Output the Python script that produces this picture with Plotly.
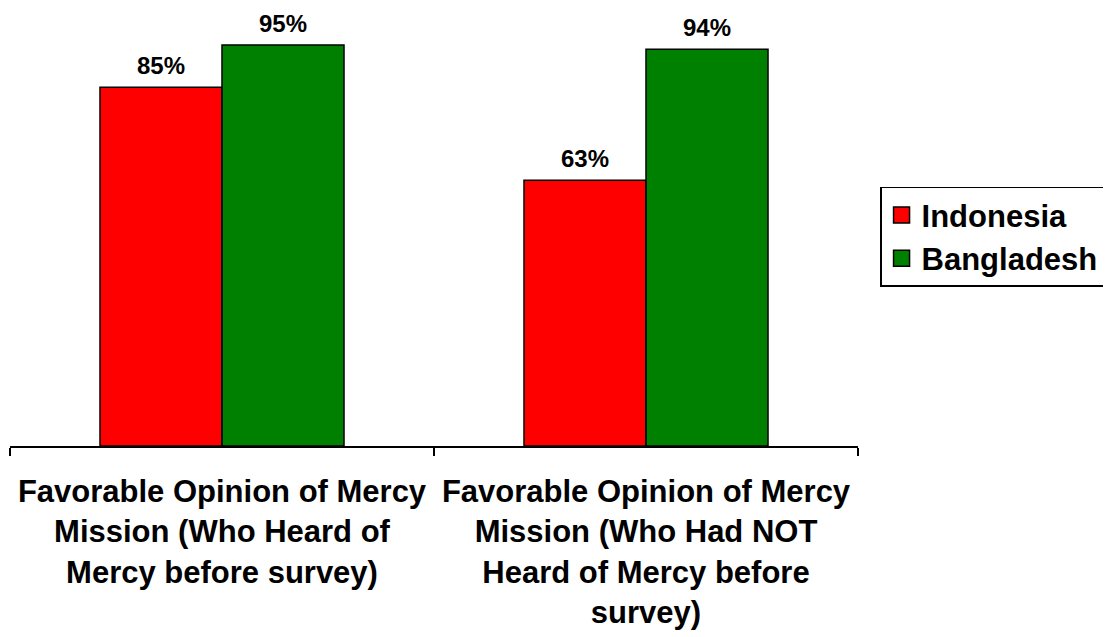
import plotly.graph_objects as go

categories = [
    "Favorable Opinion of Mercy<br>Mission (Who Heard of<br>Mercy before survey)",
    "Favorable Opinion of Mercy<br>Mission (Who Had NOT<br>Heard of Mercy before<br>survey)",
]
series_names = ["Indonesia", "Bangladesh"]
indonesia = [85, 63]
bangladesh = [95, 94]
colors = ["#FF0000", "#008000"]

FONT = "Liberation Sans, Arial, sans-serif"

fig = go.Figure()
for name, vals, col in zip(series_names, [indonesia, bangladesh], colors):
    fig.add_trace(go.Bar(
        name=name, x=categories, y=vals, legendgroup=name, showlegend=False,
        marker=dict(color=col, line=dict(color="black", width=1.5)),
        cliponaxis=False,
    ))
# legend entries with larger square keys
for name, col in zip(series_names, colors):
    fig.add_trace(go.Scatter(
        name=name, x=[None], y=[None], mode="markers", legendgroup=name,
        marker=dict(symbol="square", size=18, color=col, line=dict(color="black", width=1.5)),
        showlegend=True,
    ))

# value labels above each bar
for vals, shift in zip([indonesia, bangladesh], [-61, 61]):
    for cat, v in zip(categories, vals):
        fig.add_annotation(
            x=cat, y=v, xref="x", yref="y", text=f"<b>{v}%</b>",
            showarrow=False, xshift=shift, yanchor="bottom", yshift=6,
            font=dict(family=FONT, size=24, color="black"),
        )

fig.update_layout(
    width=1103, height=629,
    margin=dict(l=2, t=16, r=253, b=191, autoexpand=False),
    plot_bgcolor="white", paper_bgcolor="white",
    barmode="group", bargap=0.4245, bargroupgap=0,
    showlegend=True,
    legend=dict(
        x=1.026, y=0.614, xanchor="left", yanchor="top",
        font=dict(family=FONT, size=31, color="black", weight="bold"),
        bordercolor="black", borderwidth=1.5, bgcolor="white",
        tracegroupgap=0, itemsizing="trace",
    ),
    font=dict(family=FONT, color="black"),
)
fig.update_xaxes(
    showline=True, linecolor="black", linewidth=1.5,
    ticks="outside", tickson="boundaries", ticklen=8, tickcolor="black", tickwidth=1.5,
    tickfont=dict(family=FONT, size=31, color="black", weight="bold"),
    ticklabelstandoff=17,
    automargin=False, showgrid=False,
)
fig.update_yaxes(visible=False, range=[0, 100], showgrid=False)

fig.write_html("out.html")
